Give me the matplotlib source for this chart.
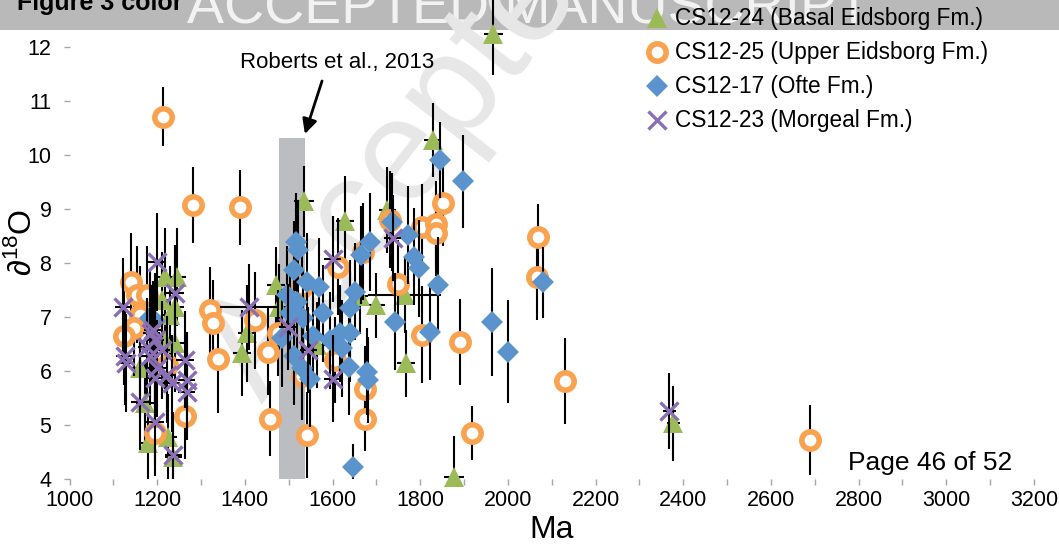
import matplotlib
matplotlib.use("Agg")
import matplotlib.pyplot as plt
from matplotlib.lines import Line2D
from matplotlib.patches import Rectangle

plt.rcParams['font.family'] = ['Liberation Sans', 'DejaVu Sans']
plt.rcParams['mathtext.fontset'] = 'custom'
plt.rcParams['mathtext.rm'] = 'Liberation Sans'

# CS12-24 (Basal Eidsborg Fm.)
b24_age = [1967, 1828, 1535, 1628, 1725, 1471, 1699, 1765, 1662, 1404, 1393, 1768, 1877, 1564,
           1478, 2377, 1218, 1246, 1241, 1210, 1229, 1241, 1161, 1172, 1180, 1225, 1237, 1218]
b24_d18o = [12.24, 10.28, 9.14, 8.77, 8.98, 7.59, 7.22, 7.41, 7.38, 6.70, 6.33, 6.14, 4.04, 6.48,
            7.19, 5.03, 7.75, 7.74, 7.19, 7.31, 7.04, 6.51, 6.05, 5.40, 4.66, 4.78, 4.41, 6.57]
b24_err = [0.75, 0.68, 0.65, 0.85, 0.8, 0.7, 0.6, 0.7, 0.7, 0.9, 0.8, 0.62, 0.75, 0.8,
           0.8, 0.7, 0.9, 0.9, 0.9, 0.9, 0.9, 0.9, 0.9, 0.8, 0.8, 0.8, 0.8, 0.9]
b24_age_err = [22, 20, 22, 20, 20, 20, 20, 83, 20, 20, 20, 20, 22, 20,
               20, 15, 20, 20, 20, 20, 20, 20, 20, 20, 20, 20, 20, 20]

# CS12-25 (Upper Eidsborg Fm.)
u25_age = [1214, 1282, 1389, 1320, 1328, 1339, 1423, 1453, 1457, 1263, 1542, 1613, 1530, 1670,
           1731, 1750, 1803, 1836, 1836, 1851, 1803, 1891, 1606, 1674, 1674, 1917, 2069, 2066,
           2130, 1530, 1476, 2689, 1140, 1153, 1176, 1161, 1146, 1124, 1222, 1195]
u25_d18o = [10.71, 9.07, 9.03, 7.13, 6.88, 6.22, 6.94, 6.36, 5.12, 5.17, 4.81, 7.93, 7.56, 8.21,
            8.80, 7.62, 8.66, 8.72, 8.55, 9.12, 6.67, 6.54, 6.20, 5.66, 5.11, 4.85, 8.49, 7.75,
            5.82, 5.90, 6.70, 4.72, 7.65, 7.41, 7.41, 7.04, 6.80, 6.64, 6.11, 4.85]
u25_err = [0.55, 0.7, 0.7, 0.8, 0.8, 1.0, 0.9, 0.8, 0.7, 0.8, 0.8, 0.9, 0.8, 0.9,
           0.9, 0.8, 0.8, 0.8, 0.8, 0.8, 0.9, 0.8, 0.8, 0.8, 0.6, 0.5, 0.6, 0.8,
           0.8, 0.8, 0.8, 0.65, 0.9, 0.9, 0.9, 0.9, 0.9, 0.9, 0.9, 0.8]
u25_age_err = [20] * len(u25_age)

# CS12-17 (Ofte Fm.)
o17_age = [1845, 1898, 1517, 1522, 1512, 1541, 1568, 1495, 1518, 1532, 1503, 1484, 1511, 1530,
           1549, 1556, 1579, 1594, 1617, 1640, 1621, 1638, 1651, 1640, 1685, 1666, 1735, 1773,
           1786, 1798, 1841, 1742, 1822, 1963, 2001, 2081, 1678, 1682, 1647, 1184, 1195]
o17_d18o = [9.91, 9.51, 8.39, 8.24, 7.87, 7.65, 7.56, 7.41, 7.28, 6.98, 7.07, 6.61, 6.27, 6.05,
            5.86, 6.64, 7.07, 6.57, 6.70, 6.70, 6.42, 6.08, 7.47, 7.16, 8.39, 8.15, 8.76, 8.52,
            8.12, 7.90, 7.59, 6.91, 6.73, 6.90, 6.36, 7.64, 5.99, 5.83, 4.23, 6.98, 6.92]
o17_err = [0.7, 0.86, 0.9, 0.9, 0.9, 0.9, 0.9, 0.9, 0.9, 0.9, 0.9, 0.9, 0.9, 0.9,
           0.9, 0.9, 0.9, 0.9, 0.9, 0.9, 0.9, 0.9, 0.9, 0.9, 0.9, 0.9, 0.9, 0.9,
           0.9, 0.9, 0.9, 0.9, 0.9, 1.0, 0.95, 0.65, 0.8, 0.8, 0.42, 0.9, 0.9]
o17_age_err = [20] * len(o17_age)

# CS12-23 (Morgeal Fm.)
m23_age = [1200, 1123, 1241, 1191, 1195, 1127, 1130, 1263, 1184, 1199, 1195, 1233, 1267, 1267,
           1161, 1195, 1237, 1210, 1222, 1176, 1187, 1410, 1499, 1545, 1600, 1600, 1737, 2368]
m23_d18o = [8.02, 7.19, 7.44, 6.76, 6.57, 6.27, 6.15, 6.21, 6.27, 6.05, 5.87, 5.77, 5.83, 5.62,
            5.43, 5.06, 4.44, 6.39, 5.93, 6.45, 6.70, 7.19, 6.82, 6.39, 8.07, 5.86, 8.46, 5.26]
m23_err = [0.9, 0.9, 0.9, 0.9, 0.9, 0.9, 0.9, 0.9, 0.9, 0.9, 0.9, 0.9, 0.9, 0.9,
           0.9, 0.8, 0.8, 0.9, 0.9, 0.9, 0.9, 0.8, 0.8, 0.8, 0.8, 0.8, 0.8, 0.7]
m23_age_err = [20, 20, 20, 20, 20, 20, 20, 20, 20, 20, 20, 20, 20, 20,
               20, 20, 20, 20, 20, 20, 20, 67, 20, 20, 20, 20, 20, 15]

roberts_span = (1479, 1537)
roberts_top = 10.31

green, orange, blue, purple = '#9bbb59', '#f9a24f', '#5b94cc', '#8a6fb4'

series = [
    ('CS12-24 (Basal Eidsborg Fm.)', b24_age, b24_d18o, b24_err, b24_age_err,
     dict(marker='^', ms=15, mfc=green, mec=green, mew=0)),
    ('CS12-25 (Upper Eidsborg Fm.)', u25_age, u25_d18o, u25_err, u25_age_err,
     dict(marker='o', ms=12.5, mfc='white', mec=orange, mew=4)),
    ('CS12-17 (Ofte Fm.)', o17_age, o17_d18o, o17_err, o17_age_err,
     dict(marker='D', ms=11.5, mfc=blue, mec=blue, mew=0)),
    ('CS12-23 (Morgeal Fm.)', m23_age, m23_d18o, m23_err, m23_age_err,
     dict(marker='x', ms=12.5, mfc=purple, mec=purple, mew=2.4)),
]

W, H = 1059, 544
fig = plt.figure(figsize=(W / 100, H / 100), dpi=100)
fig.patch.set_facecolor('white')

# page header band and watermarks sit behind the plot
fig.add_artist(Rectangle((0, 1 - 30 / H), 1, 30 / H, transform=fig.transFigure,
                         facecolor='#b9b9b9', edgecolor='none', zorder=-3))
fig.text(187 / W, 1 - 23 / H, 'ACCEPTED MANUSCRIPT', color='#f2f2f2', fontsize=40,
         ha='left', va='baseline', zorder=-2)
fig.text(17 / W, 1 - 10 / H, 'Figure 3 color', fontsize=18, fontweight='bold',
         ha='left', va='baseline', zorder=-1)
fig.text(262 / W, 1 - 405 / H, 'Accepted Manuscript', color='#e7e7e7', fontsize=104,
         rotation=52, rotation_mode='anchor', ha='left', va='baseline', zorder=-2)

x0, x1 = 69.5, 1034
ax = fig.add_axes([x0 / W, 1 - 479 / H, (x1 - x0) / W, 479 / H])
ax.set_facecolor('none')
ax.set_xlim(1000, 3200)
ax.set_ylim(4, 4 + 479 / 54)
for s in ax.spines.values():
    s.set_visible(False)

ax.bar((roberts_span[0] + roberts_span[1]) / 2, roberts_top - 4, bottom=4,
       width=roberts_span[1] - roberts_span[0], color='#bcbdc1', zorder=1)

for i, (label, age, d18o, err, age_err, style) in enumerate(series):
    ax.errorbar(age, d18o, yerr=err, xerr=age_err, fmt='none', ecolor='black',
                elinewidth=1.5, capsize=0, zorder=2 + 2 * i)
    ax.plot(age, d18o, linestyle='none', zorder=3 + 2 * i, clip_on=False, **style)

ax.set_xticks(range(1000, 3201, 200))
ax.set_xticks(range(1000, 3201, 100), minor=True)
ax.set_yticks(range(4, 13))
ax.tick_params(axis='both', which='both', color='#a6a6a6', length=4, width=1,
               labelsize=15.5, direction='out')
ax.tick_params(axis='y', pad=9)
ax.tick_params(axis='x', pad=4)

ax.annotate('', xy=(1535, 10.34), xytext=(1578, 11.42),
            arrowprops=dict(arrowstyle='-|>', color='black', lw=2, mutation_scale=22))
ax.text(1610, 11.72, 'Roberts et al., 2013', fontsize=16, ha='center', va='center')

fig.text(552 / W, 1 - 530 / H, 'Ma', fontsize=23, ha='center', va='center')
fig.text(22 / W, 1 - 242 / H, '∂$^{18}$O', fontsize=23, ha='center', va='center', rotation=90)
fig.text(848 / W, 1 - 463 / H, 'Page 46 of 52', fontsize=19, ha='left', va='center')

# legend entries stacked at the top right
for j, (label, *_rest, style) in enumerate(series):
    yc = 1 - (18 + 34 * j) / H
    fig.add_artist(Line2D([657 / W], [yc], transform=fig.transFigure, linestyle='none',
                          zorder=10, **style))
    fig.text(675 / W, yc, label, fontsize=16.3, ha='left', va='center', zorder=10)

fig.savefig('out.png', dpi=100)
